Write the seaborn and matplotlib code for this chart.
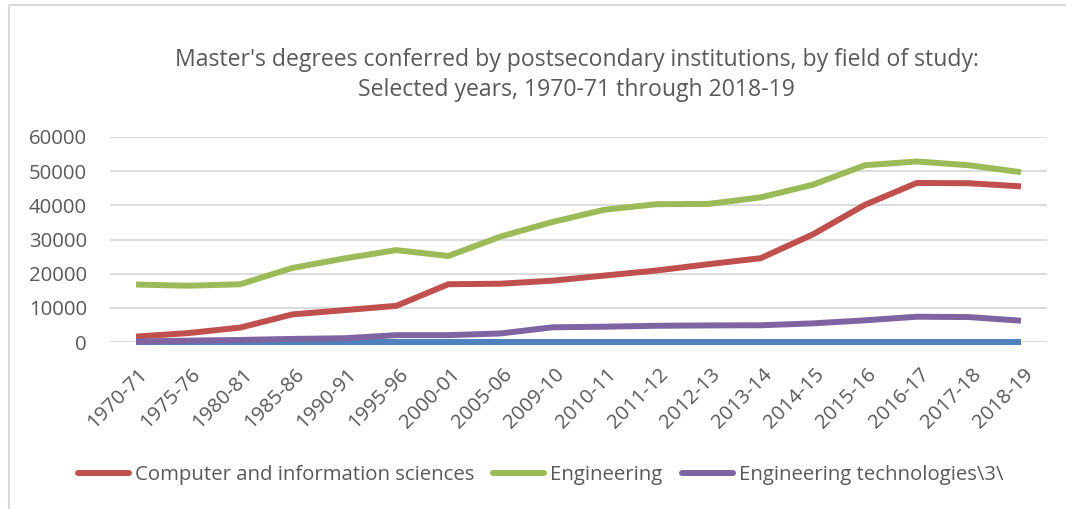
import matplotlib
matplotlib.use("Agg")
import matplotlib.pyplot as plt
import matplotlib.transforms as mtransforms
from matplotlib.lines import Line2D
from matplotlib.patches import Rectangle
import seaborn as sns
import pandas as pd

years = ["1970-71", "1975-76", "1980-81", "1985-86", "1990-91", "1995-96",
         "2000-01", "2005-06", "2009-10", "2010-11", "2011-12", "2012-13",
         "2013-14", "2014-15", "2015-16", "2016-17", "2017-18", "2018-19"]
computer = [1588, 2603, 4218, 8070, 9324, 10579, 16911, 17055, 17953, 19446,
            20925, 22777, 24532, 31474, 40134, 46555, 46468, 45550]
engineering = [16813, 16472, 16893, 21661, 24454, 26891, 25174, 30848, 35133,
               38719, 40323, 40417, 42330, 46029, 51725, 52839, 51730, 49700]
eng_tech = [134, 400, 600, 900, 1100, 2000, 2000, 2500, 4300, 4480,
            4750, 4850, 4900, 5450, 6340, 7400, 7300, 6230]
blank_series = [0, 0, 0, 0, 0, 0, 0, 0, 0, 0, 0, 0, 0, 0, 0, 0, 0, 0]
y_ticks = [0, 10000, 20000, 30000, 40000, 50000, 60000]
y_tick_labels = ["0", "10000", "20000", "30000", "40000", "50000", "60000"]

names = ["Field", "Computer and information sciences", "Engineering",
         "Engineering technologies\\3\\"]
colors = ["#4F81BD", "#C0504D", "#9BBB59", "#8064A2"]
series = [blank_series, computer, engineering, eng_tech]
title1 = "Master's degrees conferred by postsecondary institutions, by field of study:"
title2 = "Selected years, 1970-71 through 2018-19"

rows = []
for name, vals in zip(names, series):
    for i, (y, v) in enumerate(zip(years, vals)):
        rows.append({"idx": i, "year": y, "series": name, "value": v})
df = pd.DataFrame(rows)

sns.set_theme(style="white")
plt.rcParams["font.family"] = ["Open Sans", "DejaVu Sans"]
text_color = "#595959"
W, H, DPI = 1066, 509, 100

fig = plt.figure(figsize=(W / DPI, H / DPI), dpi=DPI)
renderer = fig.canvas.get_renderer()


def fit_size(s, target_px, base=14.0):
    t = fig.text(0, 0, s, fontsize=base)
    w = t.get_window_extent(renderer).width
    t.remove()
    return base * target_px / w


fs_title = fit_size(title1, 807)
fs_tick = fit_size("60000", 59)
fs_leg = fit_size(names[1], 343)
fs_px_leg = fs_leg * DPI / 72

ax = fig.add_axes([110 / W, 1 - 342 / H, (1047 - 110) / W, (342 - 137) / H])

sns.lineplot(data=df, x="idx", y="value", hue="series", hue_order=names,
             palette=colors, linewidth=4.3, sort=False, legend=False, ax=ax,
             zorder=3)
for ln in ax.get_lines():
    ln.set_solid_capstyle("butt")
    ln.set_solid_joinstyle("round")
    ln.set_clip_on(False)

ax.set_xlim(-0.5, len(years) - 0.5)
ax.set_ylim(0, 60000)
ax.set_yticks(y_ticks)
ax.set_yticklabels(y_tick_labels)
ax.set_xticks(range(len(years)))
ax.set_xticklabels(years, rotation=45, ha="right", va="top", rotation_mode="anchor")
ax.tick_params(axis="y", length=0, pad=(110 - 87) * 72 / DPI, labelsize=fs_tick,
               labelcolor=text_color)
ax.tick_params(axis="x", length=0, pad=22 * 72 / DPI, labelsize=fs_tick,
               labelcolor=text_color)
shift = mtransforms.ScaledTranslation(2 / DPI, 0, fig.dpi_scale_trans)
for lab in ax.get_xticklabels():
    lab.set_transform(lab.get_transform() + shift)
ax.set_xlabel("")
ax.set_ylabel("")
ax.grid(axis="y", color="#D9D9D9", linewidth=1.3, zorder=0)
ax.set_axisbelow(True)
for s in ax.spines.values():
    s.set_visible(False)

fig.text((173 + 980) / 2 / W, 1 - 66 / H, title1,
         ha="center", va="baseline", fontsize=fs_title, color=text_color)
fig.text((173 + 980) / 2 / W, 1 - 96 / H, title2,
         ha="center", va="baseline", fontsize=fs_title, color=text_color)

handles = [Line2D([0], [0], color=c, linewidth=4.3) for c in colors[1:]]
fig.legend(handles, names[1:], loc="center left",
           bbox_to_anchor=(78 / W, 1 - 475 / H), ncol=3, frameon=False,
           fontsize=fs_leg, labelcolor=text_color,
           handlelength=51 / fs_px_leg, handletextpad=6 / fs_px_leg,
           columnspacing=19 / fs_px_leg, borderpad=0, borderaxespad=0)

fig.patches.append(Rectangle((9 / W, -0.1), 1.2, (1 - 5 / H) + 0.1,
                             transform=fig.transFigure, fill=False,
                             edgecolor="#D9D9D9", linewidth=1.5))

fig.savefig("out.png", dpi=DPI, facecolor="white")
